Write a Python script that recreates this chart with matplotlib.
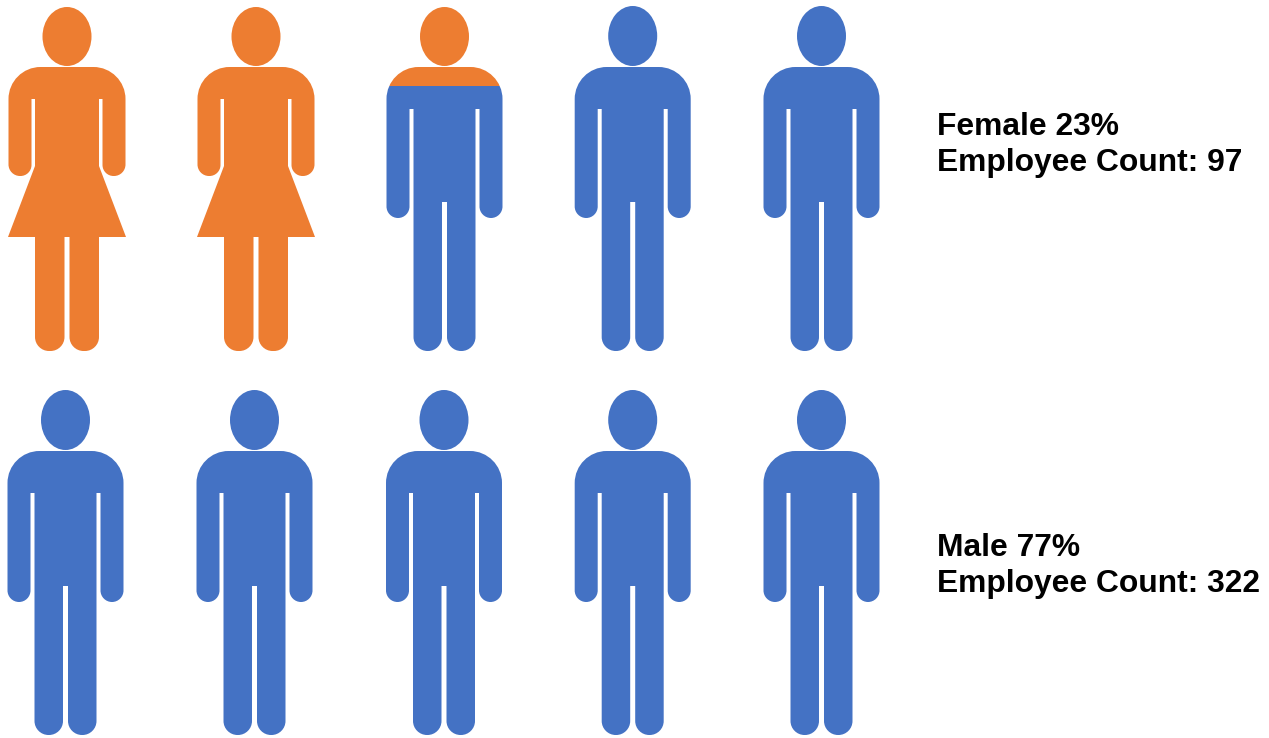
import matplotlib
matplotlib.use('Agg')
import matplotlib.pyplot as plt
from matplotlib.patches import PathPatch, Ellipse, Rectangle
from matplotlib.path import Path

plt.rcParams['font.family'] = ['Liberation Sans', 'DejaVu Sans']

ORANGE = '#ED7D31'
BLUE = '#4472C4'

# data
groups = ['Female', 'Male']
percents = [23, 77]
counts = [97, 322]
# orange share of each icon, one list per row
row1_orange = [1, 1, 0.23, 0, 0]
row2_orange = [0, 0, 0, 0, 0]
row1_shape = ['f', 'f', 'm', 'm', 'm']
row2_shape = ['m', 'm', 'm', 'm', 'm']

# icon layout in image pixels
row1_x = [67, 256, 444.5, 632.7, 821.5]
row2_x = [65.5, 254.5, 444, 632.7, 821.5]
row1_shoulder = 67
row2_shoulder = 451

# right half outlines relative to (centre, shoulder): x, y, corner radius
MALE = [(58, 0, 32), (58, 151, 11.5), (35, 151, 11.5), (35, 42, 0), (31, 42, 0),
        (31, 284, 14), (2.5, 284, 14), (2.5, 135, 0)]
FEMALE = [(58.5, 0, 32), (58.5, 109, 11.5), (35.5, 109, 11), (35.5, 32, 0), (32, 32, 0),
          (32, 99, 0), (59, 170, 0), (32, 170, 0), (32, 284, 14),
          (2.5, 284, 14), (2.5, 170, 0)]


def body_path(half, cx, y0):
    pts = half + [(-x, y, r) for x, y, r in reversed(half)]
    verts, codes = [], []
    n = len(pts)
    for i, (x, y, r) in enumerate(pts):
        px, py, _ = pts[i - 1]
        nx, ny, _ = pts[(i + 1) % n]
        if r == 0:
            verts.append((x, y))
            codes.append(Path.LINETO)
            continue
        d1 = ((px - x) ** 2 + (py - y) ** 2) ** 0.5
        d2 = ((nx - x) ** 2 + (ny - y) ** 2) ** 0.5
        a = (x + (px - x) * r / d1, y + (py - y) * r / d1)
        b = (x + (nx - x) * r / d2, y + (ny - y) * r / d2)
        c1 = (a[0] + (x - a[0]) * 0.55, a[1] + (y - a[1]) * 0.55)
        c2 = (b[0] + (x - b[0]) * 0.55, b[1] + (y - b[1]) * 0.55)
        verts += [a, c1, c2, b]
        codes += [Path.LINETO, Path.CURVE4, Path.CURVE4, Path.CURVE4]
    codes[0] = Path.MOVETO
    verts.append(verts[0])
    codes.append(Path.CLOSEPOLY)
    return Path([(cx + vx, y0 + vy) for vx, vy in verts], codes)


def draw_person(ax, cx, y0, shape, share):
    head_h = 60 if shape == 'm' else 59
    if share > 0:
        head_h = 59
    top = y0 - 1 - head_h
    bottom = y0 + 284
    cut = top + share * (bottom - top)
    half = MALE if shape == 'm' else FEMALE
    for color, box in [(BLUE, (cut, bottom)), (ORANGE, (top, cut))]:
        if box[1] <= box[0]:
            continue
        clip = Rectangle((cx - 80, box[0]), 160, box[1] - box[0], transform=ax.transData)
        body = PathPatch(body_path(half, cx, y0), fc=color, ec='none')
        head = Ellipse((cx, top + head_h / 2), 49, head_h, fc=color, ec='none')
        for p in (body, head):
            ax.add_patch(p)
            p.set_clip_path(clip)


fig = plt.figure(figsize=(12.69, 7.38), dpi=100)
ax = fig.add_axes([0, 0, 1, 1])
ax.set_xlim(0, 1269)
ax.set_ylim(738, 0)
ax.axis('off')

for cx, shape, share in zip(row1_x, row1_shape, row1_orange):
    draw_person(ax, cx, row1_shoulder, shape, share)
for cx, shape, share in zip(row2_x, row2_shape, row2_orange):
    draw_person(ax, cx, row2_shoulder, shape, share)

label_y = [127, 548]
for name, pct, count, y in zip(groups, percents, counts, label_y):
    ax.text(937, y, f'{name} {pct}%', fontsize=22.9, fontweight='bold', va='center', color='black')
    ax.text(937, y + 36, f'Employee Count: {count}', fontsize=22.9, fontweight='bold', va='center', color='black')

fig.savefig('out.png', dpi=100)
